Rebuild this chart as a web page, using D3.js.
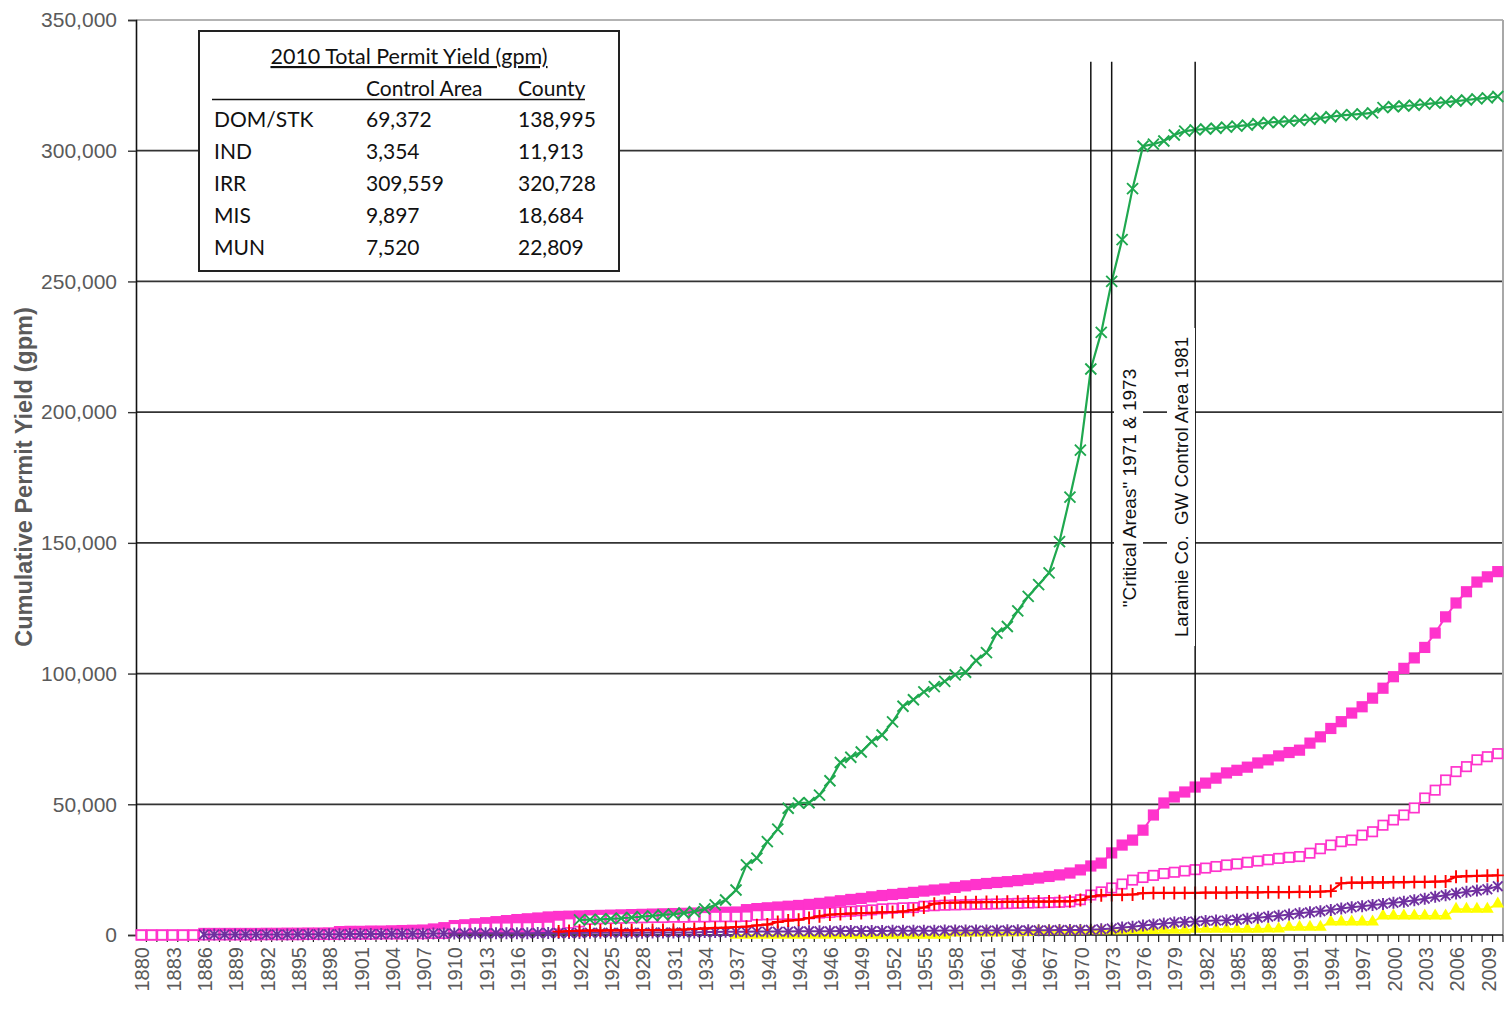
<!DOCTYPE html>
<html>
<head>
<meta charset="utf-8">
<script src="https://cdn.jsdelivr.net/npm/d3@7"></script>
<style>
  body { margin: 0; background: #fff; }
  svg { display: block; }
</style>
</head>
<body>
<svg id="chart"></svg>
<script>
// Categories: one per year
const years = [
  1880, 1881, 1882, 1883, 1884, 1885, 1886, 1887, 1888, 1889,
  1890, 1891, 1892, 1893, 1894, 1895, 1896, 1897, 1898, 1899,
  1900, 1901, 1902, 1903, 1904, 1905, 1906, 1907, 1908, 1909,
  1910, 1911, 1912, 1913, 1914, 1915, 1916, 1917, 1918, 1919,
  1920, 1921, 1922, 1923, 1924, 1925, 1926, 1927, 1928, 1929,
  1930, 1931, 1932, 1933, 1934, 1935, 1936, 1937, 1938, 1939,
  1940, 1941, 1942, 1943, 1944, 1945, 1946, 1947, 1948, 1949,
  1950, 1951, 1952, 1953, 1954, 1955, 1956, 1957, 1958, 1959,
  1960, 1961, 1962, 1963, 1964, 1965, 1966, 1967, 1968, 1969,
  1970, 1971, 1972, 1973, 1974, 1975, 1976, 1977, 1978, 1979,
  1980, 1981, 1982, 1983, 1984, 1985, 1986, 1987, 1988, 1989,
  1990, 1991, 1992, 1993, 1994, 1995, 1996, 1997, 1998, 1999,
  2000, 2001, 2002, 2003, 2004, 2005, 2006, 2007, 2008, 2009,
  2010
];

// Tick labels
const xTickYears = [
  1880, 1883, 1886, 1889, 1892, 1895, 1898, 1901, 1904, 1907, 1910,
  1913, 1916, 1919, 1922, 1925, 1928, 1931, 1934, 1937, 1940, 1943,
  1946, 1949, 1952, 1955, 1958, 1961, 1964, 1967, 1970, 1973, 1976,
  1979, 1982, 1985, 1988, 1991, 1994, 1997, 2000, 2003, 2006, 2009
];
const yTicks = [0, 50000, 100000, 150000, 200000, 250000, 300000, 350000];

// Series values (cumulative gpm), aligned with years; null = no value
const domStkCounty = [
  0, 0, 0, 0, 0, 0, 600, 600, 600, 600,
  600, 600, 650, 650, 700, 700, 750, 750, 800, 1300,
  1400, 1400, 1500, 1500, 1600, 1700, 1800, 1900, 2300, 2800,
  3600, 3900, 4300, 4700, 5100, 5500, 5900, 6200, 6500, 6900,
  7100, 7200, 7300, 7400, 7500, 7600, 7700, 7800, 7900, 8000,
  8100, 8200, 8300, 8400, 8500, 8600, 8700, 8800, 9700, 10100,
  10400, 10700, 11000, 11300, 11700, 12100, 12600, 13100, 13600, 14000,
  14600, 15100, 15500, 15900, 16300, 16800, 17200, 17600, 18200, 18800,
  19300, 19700, 20100, 20400, 20800, 21300, 21800, 22400, 23000, 23700,
  24900, 26400, 27500, 31400, 34400, 36300, 40100, 45900, 50500, 52800,
  54700, 56600, 58100, 60000, 62000, 63000, 64200, 65800, 67000, 68500,
  69800, 70700, 73400, 75800, 79000, 81600, 84900, 87300, 90600, 94400,
  98800, 102000, 106000, 110000, 115500, 121700, 127000, 131300, 135000, 137000,
  138995
];
const domStkControl = [
  0, 0, 0, 0, 0, 0, 0, 0, 0, 0,
  0, 0, 100, 100, 100, 100, 200, 200, 200, 200,
  300, 300, 300, 400, 400, 400, 500, 500, 600, 600,
  2700, 2700, 2800, 2800, 2900, 2900, 3000, 3000, 3100, 3200,
  4000, 4500, 5000, 6000, 6200, 6300, 6400, 6500, 6600, 6700,
  6700, 6800, 6800, 6900, 6900, 7000, 7000, 7000, 7100, 7600,
  7700, 7800, 7900, 8000, 8100, 8400, 8600, 8900, 9100, 9300,
  9600, 10000, 10200, 10400, 10500, 11000, 11200, 11400, 11500, 11600,
  11700, 11800, 11900, 12000, 12100, 12200, 12300, 12400, 12500, 12700,
  13500, 15300, 16500, 18000, 19500, 21000, 22000, 22800, 23500, 24000,
  24500, 25000, 25600, 26200, 26800, 27200, 27800, 28300, 28800, 29300,
  29700, 30000, 31300, 33000, 34400, 35700, 36300, 38200, 39500, 42000,
  44000, 45900, 48600, 52400, 55400, 59300, 62500, 64400, 67000, 68200,
  69372
];
const irrCounty = [
  null, null, null, null, null, null, null, null, null, null,
  null, null, null, null, null, null, null, null, null, null,
  null, null, null, null, null, null, null, null, null, null,
  null, null, null, null, null, null, null, null, null, null,
  null, null, 5800, 5900, 6000, 6200, 6400, 6700, 7000, 7300,
  7700, 8000, 8400, 8900, 10000, 11500, 13400, 17200, 26800, 29400,
  35700, 40500, 48500, 50500, 50600, 53500, 59000, 66000, 68000, 70000,
  74000, 76500, 81500, 87500, 90000, 93000, 95000, 97000, 99500, 100500,
  105000, 108000, 115500, 118000, 124000, 129500, 134000, 138500, 150500, 167500,
  185500, 216500, 230500, 250000, 266000, 285500, 301700, 302500, 303700, 306000,
  307500, 308000, 308300, 308600, 309000, 309400, 309800, 310300, 310800, 311000,
  311300, 311600, 312000, 312500, 313000, 313500, 313800, 314100, 314500, 316500,
  316800, 317100, 317400, 317800, 318200, 318600, 319000, 319400, 319800, 320200,
  320728
];
const munCounty = [
  null, null, null, null, null, null, null, null, null, null,
  null, null, null, null, null, null, null, null, null, null,
  null, null, null, null, null, null, null, null, null, null,
  null, null, null, null, null, null, null, null, null, null,
  1300, 1500, 1600, 1700, 1700, 1800, 1800, 1800, 1900, 1900,
  1900, 2000, 2100, 2300, 2500, 2700, 2800, 3000, 3200, 3700,
  4000, 5000, 5500, 5800, 6500, 7200, 7800, 8000, 8200, 8400,
  8500, 8700, 8800, 9000, 9600, 10500, 12000, 12300, 12400, 12500,
  12500, 12600, 12600, 12700, 12700, 12800, 12800, 12800, 12900, 12900,
  13400, 14700, 15200, 15300, 15400, 15500, 16000, 16100, 16100, 16100,
  16100, 16100, 16200, 16200, 16200, 16300, 16300, 16300, 16400, 16400,
  16400, 16500, 16500, 16600, 16800, 19800, 20000, 20000, 20100, 20100,
  20200, 20200, 20300, 20300, 20400, 20500, 22300, 22500, 22600, 22700,
  22809
];
const misCounty = [
  null, null, null, null, null, null, 200, 200, 200, 200,
  200, 200, 200, 200, 200, 300, 300, 300, 300, 300,
  400, 400, 400, 400, 500, 500, 500, 500, 600, 600,
  600, 600, 700, 700, 700, 700, 700, 700, 800, 800,
  800, 800, 800, 900, 900, 900, 900, 900, 900, 1000,
  1000, 1000, 1000, 1000, 1100, 1100, 1200, 1200, 1200, 1300,
  1300, 1300, 1300, 1400, 1400, 1400, 1400, 1500, 1500, 1500,
  1500, 1500, 1600, 1600, 1600, 1600, 1600, 1700, 1700, 1700,
  1700, 1700, 1700, 1800, 1800, 1800, 1800, 1800, 1900, 1900,
  1900, 2000, 2200, 2500, 2900, 3200, 3600, 4000, 4400, 4800,
  5000, 5200, 5400, 5500, 5600, 5800, 6200, 6600, 7000, 7400,
  7800, 8300, 8700, 9100, 9600, 10100, 10600, 11000, 11500, 11900,
  12300, 12700, 13300, 13900, 14600, 15200, 15900, 16500, 17000, 17500,
  18684
];
const indCounty = [
  null, null, null, null, null, null, null, null, null, null,
  null, null, null, null, null, null, null, null, null, null,
  null, null, null, null, null, null, null, null, null, null,
  null, null, null, null, null, null, null, null, null, null,
  null, null, null, null, null, null, null, null, null, null,
  null, null, null, null, null, null, null, 0, 0, 0,
  0, 0, 0, 0, 0, 0, 0, 0, 0, 0,
  0, 0, 0, 0, 0, 0, 0, 0, 800, 800,
  800, 800, 800, 900, 900, 1000, 1600, 1600, 1600, 1600,
  1600, 1700, 1700, 1700, 1700, 1800, 1800, 1800, 1900, 1900,
  1900, 2300, 2300, 2300, 2300, 2300, 2300, 2300, 2400, 2400,
  3000, 3000, 3000, 3000, 5000, 5000, 5000, 5000, 5000, 7300,
  7300, 7300, 7300, 7300, 7300, 7300, 9900, 9900, 9900, 9900,
  11913
];

// Table contents
const tableTitle = '2010 Total Permit Yield (gpm)';
const tableHeaders = ['Control Area', 'County'];
const tableUses = ['DOM/STK', 'IND', 'IRR', 'MIS', 'MUN'];
const tableControl = ['69,372', '3,354', '309,559', '9,897', '7,520'];
const tableCounty = ['138,995', '11,913', '320,728', '18,684', '22,809'];

// Annotation lines
const markerYears = [1971, 1973, 1981];
const markerTop = 334000;

const width = 1509;
const height = 1011;
const svg = d3.select('#chart').attr('width', width).attr('height', height);

const x = d3.scaleBand().domain(years).range([136, 1503]).padding(0);
const y = d3.scaleLinear().domain([0, 350000]).range([935, 20]);
const cx = (yr) => x(yr) + x.bandwidth() / 2;

const grey = '#5a5a5a';

// Horizontal gridlines
svg
  .append('g')
  .selectAll('line')
  .data(yTicks.filter((v) => v > 0))
  .join('line')
  .attr('x1', 136)
  .attr('x2', 1503)
  .attr('y1', (d) => y(d))
  .attr('y2', (d) => y(d))
  .attr('stroke', (d) => (d === 350000 ? '#9a9a9a' : '#333'))
  .attr('stroke-width', 1.7);

// Right border of plot
svg
  .append('line')
  .attr('x1', 1503)
  .attr('x2', 1503)
  .attr('y1', y(350000))
  .attr('y2', y(0))
  .attr('stroke', '#a8a8a8')
  .attr('stroke-width', 2);

// Y axis
const yAxis = svg
  .append('g')
  .attr('transform', 'translate(136,0)')
  .call(
    d3
      .axisLeft(y)
      .tickValues(yTicks)
      .tickFormat(d3.format(','))
      .tickSize(8)
      .tickPadding(11)
  );
yAxis.select('.domain').attr('stroke', '#111').attr('stroke-width', 1.6);
yAxis.selectAll('.tick line').attr('stroke', '#333').attr('stroke-width', 1.4);
yAxis
  .selectAll('.tick text')
  .attr('fill', grey)
  .style('font-family', '"Liberation Sans", Arial, sans-serif')
  .style('font-size', '21px');

// Y axis title
svg
  .append('text')
  .attr('transform', 'translate(32,477) rotate(-90)')
  .attr('text-anchor', 'middle')
  .attr('fill', grey)
  .style('font-family', '"Liberation Sans", Arial, sans-serif')
  .style('font-size', '23.5px')
  .style('font-weight', 'bold')
  .text('Cumulative Permit Yield (gpm)');

// X axis line, ticks between categories, labels every third year
svg
  .append('line')
  .attr('x1', 136)
  .attr('x2', 1503)
  .attr('y1', y(0))
  .attr('y2', y(0))
  .attr('stroke', '#111')
  .attr('stroke-width', 1.6);

svg
  .append('g')
  .selectAll('line')
  .data(years)
  .join('line')
  .attr('x1', (d) => x(d) + x.bandwidth())
  .attr('x2', (d) => x(d) + x.bandwidth())
  .attr('y1', y(0))
  .attr('y2', y(0) + 7)
  .attr('stroke', '#222')
  .attr('stroke-width', 1.2);

svg
  .append('g')
  .selectAll('text')
  .data(xTickYears)
  .join('text')
  .attr('transform', (d) => 'translate(' + (cx(d) + 1) + ',' + (y(0) + 12) + ') rotate(-90)')
  .attr('text-anchor', 'end')
  .attr('dy', '0.36em')
  .attr('fill', grey)
  .style('font-family', '"Liberation Sans", Arial, sans-serif')
  .style('font-size', '20px')
  .text((d) => d);

// Marker shapes
const markerPaths = {
  x: 'M-5.5,-5.5L5.5,5.5M-5.5,5.5L5.5,-5.5',
  plus: 'M-6,0L6,0M0,-6.5L0,6.5',
  star: 'M-4.8,-4.8L4.8,4.8M-4.8,4.8L4.8,-4.8M0,-6L0,6',
};

const series = [
  { values: domStkCounty, color: '#ff33cc', marker: 'filledSquare', width: 2 },
  { values: domStkControl, color: '#ff33cc', marker: 'openSquare', width: 1.8 },
  { values: indCounty, color: '#ffff00', marker: 'triangle', width: 1.8 },
  { values: misCounty, color: '#7030a0', marker: 'star', width: 2 },
  { values: munCounty, color: '#ff0000', marker: 'plus', width: 2.2 },
  { values: irrCounty, color: '#1fa84f', marker: 'x', width: 2.2 },
];

const line = d3
  .line()
  .defined((d) => d.v !== null)
  .x((d) => cx(d.year))
  .y((d) => y(d.v));

series.forEach(function (s) {
  const pts = years.map((yr, i) => ({ year: yr, v: s.values[i] }));
  const g = svg.append('g');
  g.append('path')
    .datum(pts)
    .attr('d', line)
    .attr('fill', 'none')
    .attr('stroke', s.color)
    .attr('stroke-width', s.width);

  const marks = g
    .selectAll('.mk')
    .data(pts.filter((d) => d.v !== null))
    .join(s.marker === 'filledSquare' || s.marker === 'openSquare' ? 'rect' : 'path')
    .attr('class', 'mk');

  if (s.marker === 'filledSquare') {
    marks
      .attr('x', (d) => cx(d.year) - 5.6)
      .attr('y', (d) => y(d.v) - 5.6)
      .attr('width', 11.2)
      .attr('height', 11.2)
      .attr('fill', s.color);
  } else if (s.marker === 'openSquare') {
    marks
      .attr('x', (d) => cx(d.year) - 4.7)
      .attr('y', (d) => y(d.v) - 4.7)
      .attr('width', 9.4)
      .attr('height', 9.4)
      .attr('fill', '#fff')
      .attr('stroke', s.color)
      .attr('stroke-width', 1.7);
  } else if (s.marker === 'triangle') {
    marks
      .attr('transform', (d) => 'translate(' + cx(d.year) + ',' + y(d.v) + ')')
      .attr('d', d3.symbol(d3.symbolTriangle, 70)())
      .attr('fill', s.color);
  } else {
    marks
      .attr('transform', (d) => 'translate(' + cx(d.year) + ',' + y(d.v) + ')')
      .attr('d', markerPaths[s.marker])
      .attr('fill', 'none')
      .attr('stroke', s.color)
      .attr('stroke-width', 1.9);
  }
});

// Vertical annotation lines
svg
  .append('g')
  .selectAll('line')
  .data(markerYears)
  .join('line')
  .attr('x1', (d) => cx(d))
  .attr('x2', (d) => cx(d))
  .attr('y1', y(markerTop))
  .attr('y2', y(0))
  .attr('stroke', '#111')
  .attr('stroke-width', 1.5);

// Annotation text boxes
const annotFont = '"Liberation Sans", Arial, sans-serif';
svg.append('rect').attr('x', 1114).attr('y', 360).attr('width', 29).attr('height', 256).attr('fill', '#fff');
svg.append('rect').attr('x', 1167).attr('y', 328).attr('width', 28).attr('height', 318).attr('fill', '#fff');

svg
  .append('text')
  .attr('transform', 'translate(1136,488) rotate(-90)')
  .attr('text-anchor', 'middle')
  .attr('fill', '#111')
  .style('font-family', annotFont)
  .style('font-size', '19px')
  .text('"Critical Areas" 1971 & 1973');

svg
  .append('text')
  .attr('transform', 'translate(1188,487) rotate(-90)')
  .attr('text-anchor', 'middle')
  .attr('fill', '#111')
  .style('font-family', annotFont)
  .style('font-size', '18.7px')
  .style('white-space', 'pre')
  .text('Laramie Co.  GW Control Area 1981');

// Summary table
const tableFont = 'Lato, "Open Sans", sans-serif';
const table = svg.append('g');
table
  .append('rect')
  .attr('x', 199)
  .attr('y', 31)
  .attr('width', 420)
  .attr('height', 240)
  .attr('fill', '#fff')
  .attr('stroke', '#222')
  .attr('stroke-width', 2);

table
  .append('text')
  .attr('x', 409)
  .attr('y', 64)
  .attr('text-anchor', 'middle')
  .style('font-family', tableFont)
  .style('font-size', '21.5px')
  .style('text-decoration', 'underline')
  .attr('fill', '#111')
  .text(tableTitle);

table
  .selectAll('.hdr')
  .data(tableHeaders)
  .join('text')
  .attr('class', 'hdr')
  .attr('x', (d, i) => [366, 518][i])
  .attr('y', 96)
  .style('font-family', tableFont)
  .style('font-size', '21px')
  .attr('fill', '#111')
  .text((d) => d);

table
  .append('line')
  .attr('x1', 212)
  .attr('x2', 585)
  .attr('y1', 99.5)
  .attr('y2', 99.5)
  .attr('stroke', '#111')
  .attr('stroke-width', 1.4);

const columns = [
  { vals: tableUses, x: 214 },
  { vals: tableControl, x: 366 },
  { vals: tableCounty, x: 518 },
];
columns.forEach(function (c) {
  table
    .append('g')
    .selectAll('text')
    .data(c.vals)
    .join('text')
    .attr('x', c.x)
    .attr('y', (d, i) => 127 + i * 32)
    .style('font-family', tableFont)
    .style('font-size', '21px')
    .attr('fill', '#111')
    .text((d) => d);
});
</script>
</body>
</html>
